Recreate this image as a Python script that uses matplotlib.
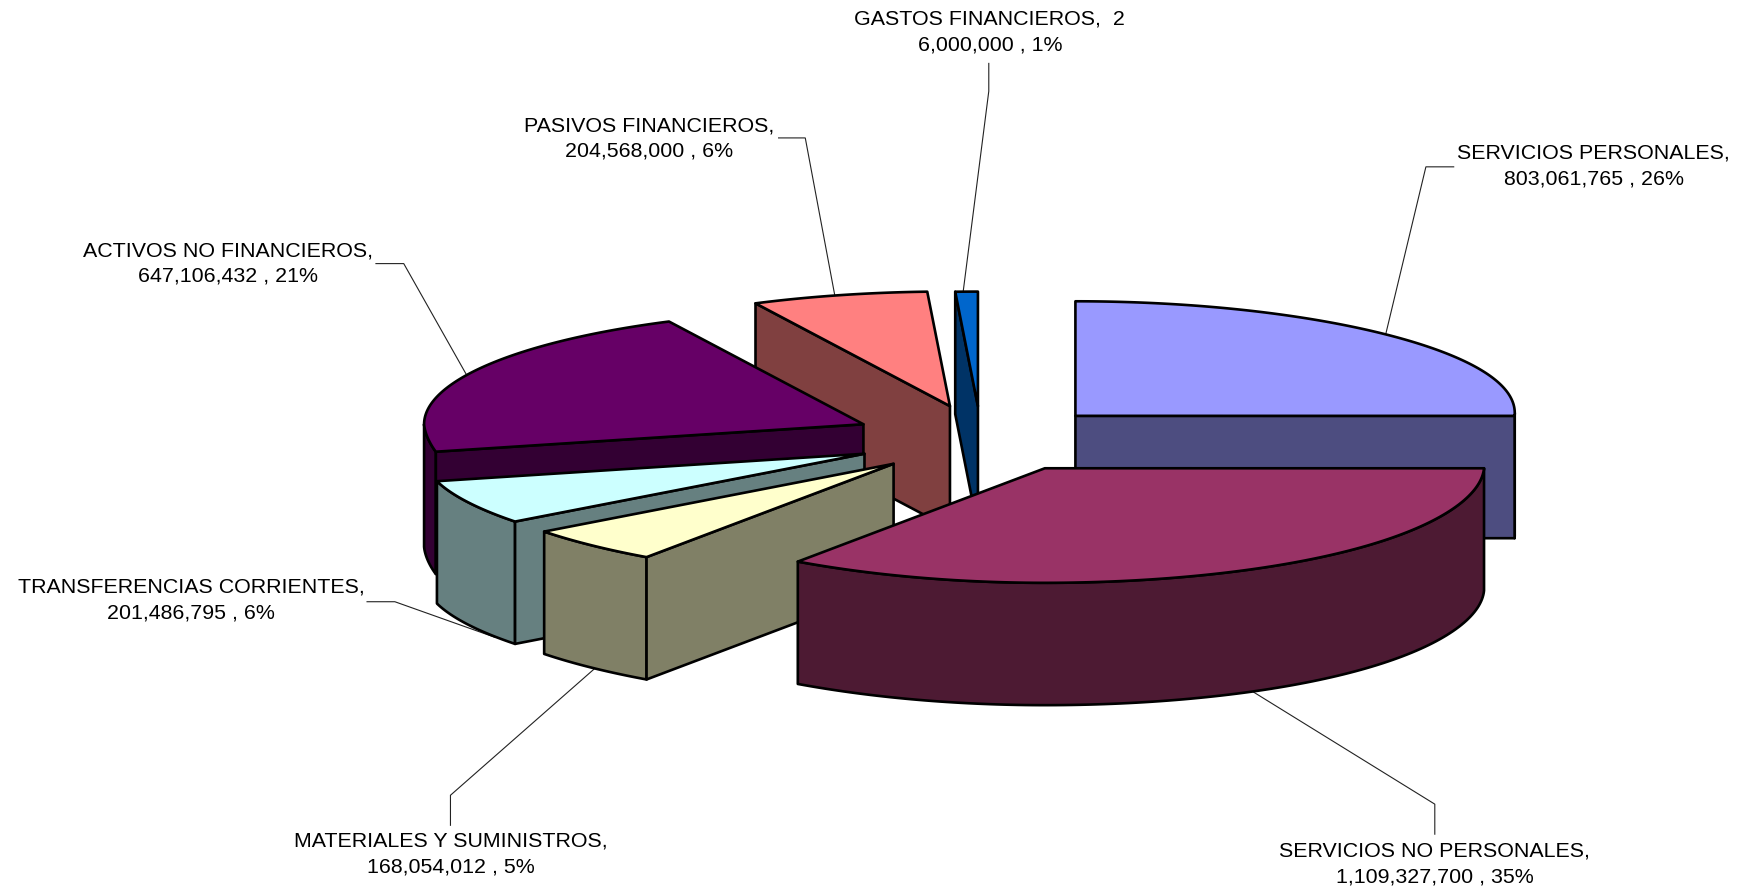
import numpy as np
import matplotlib
matplotlib.use("Agg")
import matplotlib.pyplot as plt
from matplotlib.patches import Polygon

plt.rcParams['font.family'] = ['Liberation Sans', 'DejaVu Sans']

# --- data -------------------------------------------------------------
categories = ["SERVICIOS PERSONALES", "SERVICIOS NO PERSONALES",
              "MATERIALES Y SUMINISTROS", "TRANSFERENCIAS CORRIENTES",
              "ACTIVOS NO FINANCIEROS", "PASIVOS FINANCIEROS",
              "GASTOS FINANCIEROS"]
values = [803061765, 1109327700, 168054012, 201486795,
          647106432, 204568000, 26000000]
percent_labels = [26, 35, 5, 6, 21, 6, 1]

# --- style / layout ---------------------------------------------------
top_colors = ["#9999FF", "#993366", "#FFFFCC", "#CCFFFF", "#660066", "#FF8080", "#0066CC"]
side_colors = ["#4D4D80", "#4D1A33", "#808066", "#668080", "#330033", "#804040", "#003366"]
explode_x = [0.30, 0.34, 0.27, 0.285, 0.30, 0.28, 0.27]
explode_y = [0.28, 0.29, 0.33, 0.37, 0.27, 0.29, 0.28]
draw_order = [0, 6, 5, 4, 3, 2, 1]
S = 1744 / 1568
CX, CY = 882 * S, 394 * S
RX, RY, DEPTH = 395 * S, 103 * S, 110 * S
EDGE = 1.9

# label centre (x, y) and leader-line paths, in shrunk reference pixels
label_pos = [(1433, 149.5), (1290, 776.5), (405, 768), (172, 539.5),
             (205, 237), (584, 124.5), (890, 29)]
leaders = [[(1307, 150), (1282, 150), (1246, 300)],
           [(1290, 750), (1290, 723), (1125, 621)],
           [(405, 742), (405, 715), (545, 592)],
           [(330, 541), (355, 541), (445, 573)],
           [(338, 237), (363, 237), (420, 338)],
           [(700, 124), (724, 124), (751, 268)],
           [(889, 57), (889, 82), (866, 262)]]


def rim(deg):
    """Offset from a slice apex to its rim at a clockwise angle from 12 o'clock."""
    a = np.radians(deg)
    x0 = RX * np.sin(a)
    y0 = -RY * np.cos(a)
    left_front = (x0 < 0) & (y0 > 0)
    x = np.where(left_front, x0 * (1 - 0.115 * np.clip(y0 / RY, 0, 1) ** 1.3), x0)
    ramp = np.clip(y0 / (0.17 * RY), 0, 1)
    y = np.where(left_front, y0 + 7 * S * (x0 / RX) ** 2 * ramp, y0)
    y = np.where(x0 > 0, y - 0.026 * RY * (x0 / RX) ** 6, y)
    return np.column_stack([x, y])


fig = plt.figure(figsize=(17.44, 8.91), dpi=100, facecolor="white")
ax = fig.add_axes([0, 0, 1, 1])
ax.set_xlim(0, 1744)
ax.set_ylim(891, 0)
ax.axis("off")

total = sum(values)
cum = np.concatenate([[0], np.cumsum(values)]) / total * 360


def face(pts, color, z):
    ax.add_patch(Polygon(pts, closed=True, facecolor=color, edgecolor="black",
                         linewidth=EDGE, joinstyle="round", zorder=z))


# leader lines beneath the pie
for path in leaders:
    p = np.array(path) * S
    ax.plot(p[:, 0], p[:, 1], color="#222222", lw=0.8, zorder=1, solid_joinstyle="miter")

z = 2
for i in draw_order:
    a0, a1 = cum[i], cum[i + 1]
    mid = np.radians((a0 + a1) / 2)
    apex = np.array([CX + explode_x[i] * RX * np.sin(mid),
                     CY - explode_y[i] * RY * np.cos(mid)])
    down = np.array([0, DEPTH])
    angs = np.linspace(a0, a1, 120)
    arc = apex + rim(angs)

    # outer wall: the part of the rim that faces the viewer
    lo, hi = max(a0, 90), min(a1, 270)
    if hi > lo:
        wall = apex + rim(np.linspace(lo, hi, 120))
        face(np.vstack([wall, (wall + down)[::-1]]), side_colors[i], z)
        z += 1
    # cut faces
    if np.sin(np.radians(a0)) < -1e-6:
        e = apex + rim(np.array([a0]))[0]
        face([apex, e, e + down, apex + down], side_colors[i], z)
        z += 1
    if np.sin(np.radians(a1)) > 1e-6:
        e = apex + rim(np.array([a1]))[0]
        face([apex, e, e + down, apex + down], side_colors[i], z)
        z += 1
    # top
    face(np.vstack([apex, arc]), top_colors[i], z)
    z += 1

for i, name in enumerate(categories):
    text = f"{name},\n{values[i]:,} , {percent_labels[i]}%"
    if name == "GASTOS FINANCIEROS":
        raw = f"{values[i]:,}"
        text = f"{name},  {raw[0]}\n{raw[1:]} , {percent_labels[i]}%"
    x, y = label_pos[i]
    ax.text(x * S, y * S, text, ha="center", va="center", fontsize=15.4,
            linespacing=1.45, color="black", zorder=100)

fig.savefig("out.png", dpi=100, facecolor="white")
